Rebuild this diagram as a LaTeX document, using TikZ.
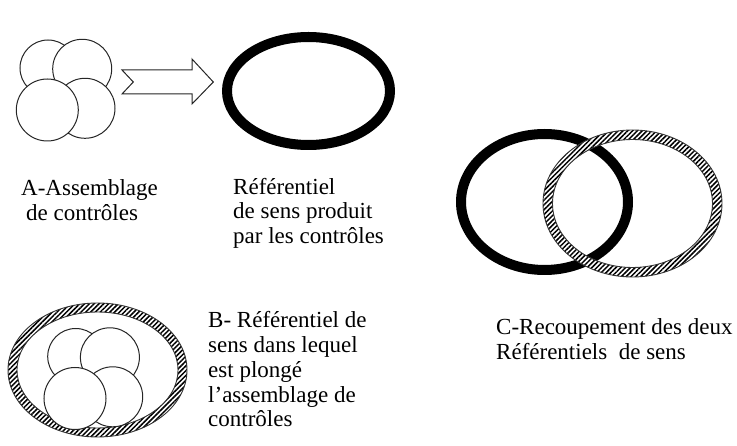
\documentclass[tikz,border=0pt]{standalone}
\usepackage{fontspec}
\setmainfont{Liberation Serif}
\usetikzlibrary{patterns.meta}
\tikzset{
  bubble/.style={draw=black!85, line width=1pt, fill=white},
  blackring/.style={draw=black, line width=10pt},
  lbl/.style={anchor=base west, inner sep=0pt, font=\fontsize{23}{24.5}\selectfont},
  hatchfill/.style={pattern={Lines[angle=45,distance=3.4pt,line width=1.5pt]}},
  ringedge/.style={draw=black!80, line width=0.9pt},
  blockarrow/.style={draw=black!85, line width=1pt, fill=white, line join=miter},
  pics/bubbles/.style={code={
    \draw[bubble] (48,68) circle[radius=28];
    \draw[bubble] (82.2,68.8) circle[radius=29.5];
    \draw[bubble] (85,108.3) circle[radius=30];
    \draw[bubble] (47.3,110) circle[radius=31];
  }},
}
\newcommand{\hatchring}[5]{%
  \fill[white, even odd rule] (#1) ellipse[x radius=#2, y radius=#3] (#1) ellipse[x radius=#4, y radius=#5];
  \fill[hatchfill, even odd rule] (#1) ellipse[x radius=#2, y radius=#3] (#1) ellipse[x radius=#4, y radius=#5];
  \draw[ringedge] (#1) ellipse[x radius=#2, y radius=#3];
  \draw[ringedge] (#1) ellipse[x radius=#4, y radius=#5];
}
\begin{document}
\begin{tikzpicture}[x=1pt,y=-1pt]
\useasboundingbox (0,0) rectangle (737,446);
% A: assemblage
\pic at (0,0) {bubbles};
% arrow
\coordinate (tailtop) at (122,70);
\coordinate (notch) at (133.3,82);
\coordinate (tip) at (213.3,82);
\draw[blockarrow] (tailtop) -- (192,70) -- (192,59) -- (tip) -- (192,104) -- (192,94) -- (122,94) -- (notch) -- cycle;
% referentiel
\coordinate (refA) at (308.5,91);
\draw[blackring] (refA) ellipse[x radius=81.5, y radius=54];
% labels A
\node[lbl] (la1) at (21,196) {A-Assemblage};
\node[lbl] (la2) at (26,221) {de contrôles};
\node[lbl] (lr1) at (233,194.5) {Référentiel};
\node[lbl] (lr2) at (233,219) {de sens produit};
\node[lbl] (lr3) at (233,243.5) {par les contrôles};
% C: recoupement
\coordinate (refC1) at (544.5,202);
\coordinate (refC2) at (632.5,203.5);
\draw[blackring] (refC1) ellipse[x radius=83.5, y radius=68];
\hatchring{refC2}{89.5}{73.5}{80}{64}
\node[lbl] (lc1) at (496,334.5) {C-Recoupement des deux};
\node[lbl] (lc2) at (496,359.5) {Référentiels\ \ de sens};
% B: plongé
\coordinate (refB) at (97.5,370);
\hatchring{refB}{89.5}{67}{80.5}{58}
\pic at (27.7,288.5) {bubbles};
\node[lbl] (lb1) at (208,328) {B- Référentiel de};
\node[lbl] (lb2) at (208,353) {sens dans lequel};
\node[lbl] (lb3) at (208,378) {est plongé};
\node[lbl] (lb4) at (208,402.5) {l’assemblage de};
\node[lbl] (lb5) at (208,427) {contrôles};
\end{tikzpicture}
\end{document}
